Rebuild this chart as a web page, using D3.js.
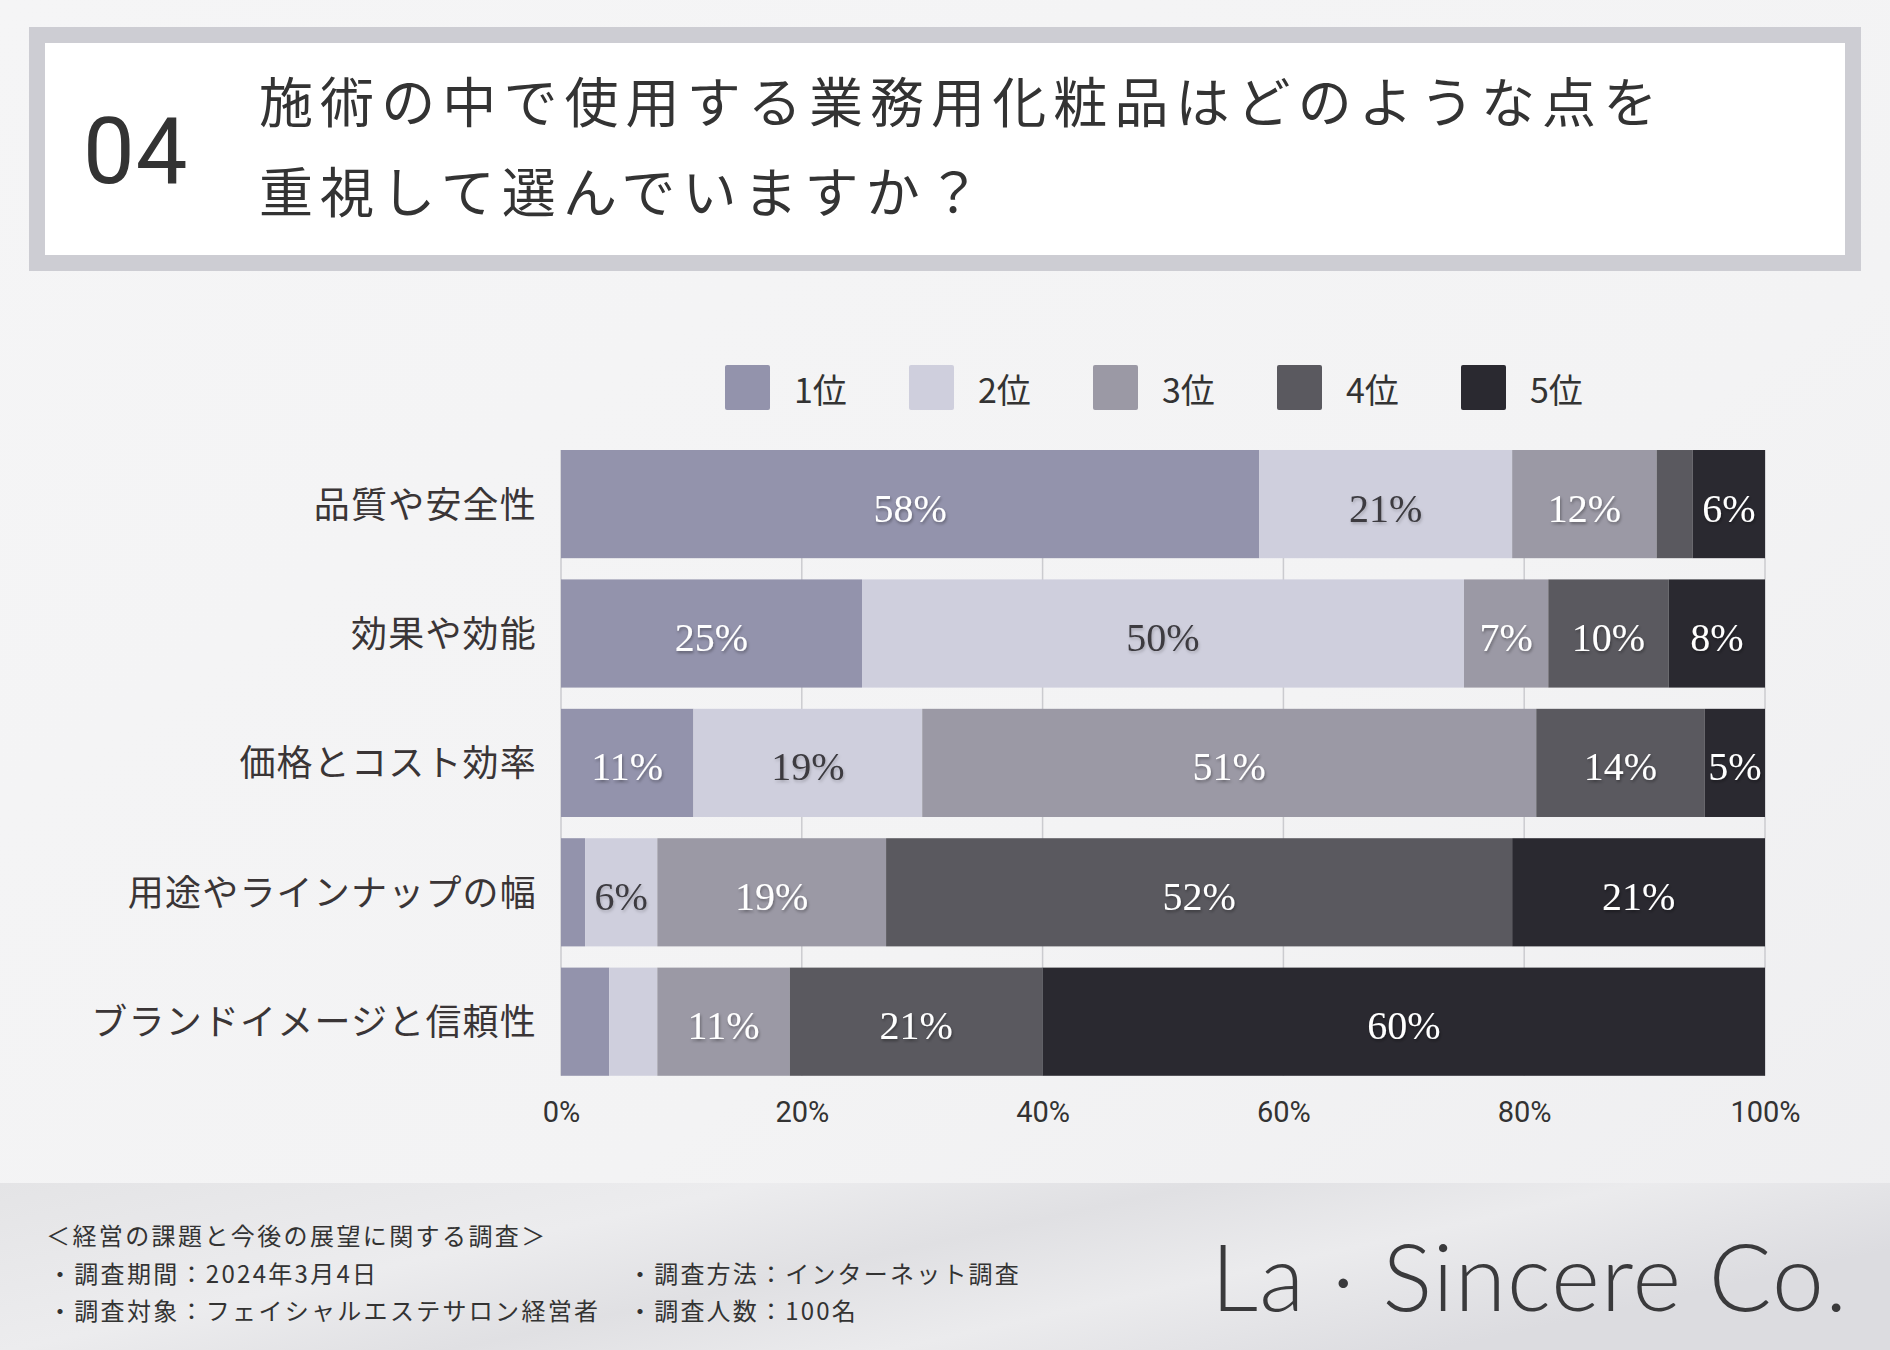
<!DOCTYPE html>
<html><head><meta charset="utf-8">
<script src="https://cdn.jsdelivr.net/npm/d3@7"></script>
<style>
html,body{margin:0;padding:0;background:#f3f3f4;}
svg{display:block;}
</style></head>
<body>
<svg id="chart" width="1890" height="1350"></svg>
<script>
// ---- data ----
const categories = ["品質や安全性","効果や効能","価格とコスト効率","用途やラインナップの幅","ブランドイメージと信頼性"];
const seriesNames = ["1位","2位","3位","4位","5位"];
const rank1 = [58,25,11,2,4];
const rank2 = [21,50,19,6,4];
const rank3 = [12,7,51,19,11];
const rank4 = [3,10,14,52,21];
const rank5 = [6,8,5,21,60];
const xTicks = [0,20,40,60,80,100];
const seriesColors = ["#9393ac","#cfcfdd","#9b99a5","#5a595f","#2a2930"];
const labelColors = ["#ffffff","#3c3b40","#ffffff","#ffffff","#ffffff"];
const titleLines = ["施術の中で使用する業務用化粧品はどのような点を","重視して選んでいますか？"];
const questionNo = "04";
const footerLines = ["＜経営の課題と今後の展望に関する調査＞"];
const footerLeft = ["・調査期間：2024年3月4日","・調査対象：フェイシャルエステサロン経営者"];
const footerRight = ["・調査方法：インターネット調査","・調査人数：100名"];
const brand = "La · Sincere Co.";

const rows = categories.map((c,i)=>({cat:c, "1位":rank1[i], "2位":rank2[i], "3位":rank3[i], "4位":rank4[i], "5位":rank5[i]}));

const svg = d3.select("#chart");
const defs = svg.append("defs");

// background gradients
const bg = defs.append("linearGradient").attr("id","bg").attr("x1",0).attr("y1",0).attr("x2",1).attr("y2",1);
bg.append("stop").attr("offset","0%").attr("stop-color","#f5f5f6");
bg.append("stop").attr("offset","60%").attr("stop-color","#f3f3f4");
bg.append("stop").attr("offset","100%").attr("stop-color","#eeeef0");
const fg = defs.append("linearGradient").attr("id","foot").attr("x1",0).attr("y1",0).attr("x2",1).attr("y2",0.4);
fg.append("stop").attr("offset","0%").attr("stop-color","#e4e4e6");
fg.append("stop").attr("offset","35%").attr("stop-color","#ececee");
fg.append("stop").attr("offset","55%").attr("stop-color","#e0e0e3");
fg.append("stop").attr("offset","75%").attr("stop-color","#ebebed");
fg.append("stop").attr("offset","100%").attr("stop-color","#dcdce0");
const sh = defs.append("filter").attr("id","shadow").attr("x","-20%").attr("y","-20%").attr("width","140%").attr("height","140%");
sh.append("feDropShadow").attr("dx",1).attr("dy",2).attr("stdDeviation",1.5).attr("flood-color","#000").attr("flood-opacity",0.35);
const sh2 = defs.append("filter").attr("id","shadowLight").attr("x","-20%").attr("y","-20%").attr("width","140%").attr("height","140%");
sh2.append("feDropShadow").attr("dx",1).attr("dy",2).attr("stdDeviation",1.5).attr("flood-color","#000").attr("flood-opacity",0.2);

svg.append("rect").attr("width",1890).attr("height",1350).attr("fill","url(#bg)");
svg.append("rect").attr("x",0).attr("y",1183).attr("width",1890).attr("height",167).attr("fill","url(#foot)");

// header box
svg.append("rect").attr("x",29).attr("y",27).attr("width",1832).attr("height",244).attr("fill","#cdcdd3");
svg.append("rect").attr("x",45).attr("y",43).attr("width",1800).attr("height",212).attr("fill","#ffffff");
svg.append("text").attr("x",83).attr("y",183)
  .attr("font-family","Roboto, 'Noto Sans', sans-serif").attr("font-size",92).attr("letter-spacing",1)
  .attr("fill","#333333").text(questionNo);
svg.selectAll("text.title").data(titleLines).join("text").attr("class","title")
  .attr("x",259).attr("y",(d,i)=> i===0 ? 99 : 189)
  .attr("dominant-baseline","central")
  .attr("font-family","'Noto Sans CJK JP', sans-serif").attr("font-size",54).attr("letter-spacing",7.1)
  .attr("fill","#333333").text(d=>d);

// scales
const x = d3.scaleLinear().domain([0,100]).range([561,1765]);
const y = d3.scaleBand().domain(categories).range([439.4,1086.4]).paddingInner(0.164).paddingOuter(0.082);
const color = d3.scaleOrdinal().domain(seriesNames).range(seriesColors);
const lblColor = d3.scaleOrdinal().domain(seriesNames).range(labelColors);
const legendX = d3.scalePoint().domain(seriesNames).range([725,1461]);

// grid lines
const y0 = y(categories[0]), y1 = y(categories[categories.length-1]) + y.bandwidth();
svg.append("g").selectAll("line").data(xTicks).join("line")
  .attr("x1",d=>x(d)).attr("x2",d=>x(d)).attr("y1",y0).attr("y2",y1)
  .attr("stroke","#cbcbcf").attr("stroke-width",1.5);

// stacked bars
const stack = d3.stack().keys(seriesNames)(rows);
const layers = svg.append("g").selectAll("g").data(stack).join("g").attr("fill",d=>color(d.key));
layers.selectAll("rect").data(d=>d).join("rect")
  .attr("x",d=>x(d[0])).attr("width",d=>x(d[1])-x(d[0]))
  .attr("y",d=>y(d.data.cat)).attr("height",y.bandwidth());

// value labels
stack.forEach(layer=>{
  svg.append("g").selectAll("text").data(layer.filter(d=>d[1]-d[0]>=5)).join("text")
    .attr("x",d=>x((d[0]+d[1])/2)).attr("y",d=>y(d.data.cat)+y.bandwidth()/2+4)
    .attr("text-anchor","middle").attr("dominant-baseline","central")
    .attr("font-family","'Liberation Serif', 'DejaVu Serif', serif").attr("font-size",40)
    .attr("fill",lblColor(layer.key))
    .attr("filter", layer.key==="2位" ? "url(#shadowLight)" : "url(#shadow)")
    .text(d=>(d[1]-d[0])+"%");
});

// y axis labels
const yAxis = d3.axisLeft(y).tickSize(0).tickPadding(24);
const yg = svg.append("g").attr("transform",`translate(${x(0)},2)`).call(yAxis);
yg.select(".domain").remove();
yg.selectAll("text").attr("font-family","'Noto Sans CJK JP', sans-serif").attr("font-size",36)
  .attr("fill","#3a3536").attr("letter-spacing",1.2);

// x axis
const xAxis = d3.axisBottom(x).tickValues(xTicks).tickFormat(d=>d+"%").tickSize(0).tickPadding(26);
const xg = svg.append("g").attr("transform",`translate(0,${y1})`).call(xAxis);
xg.select(".domain").remove();
xg.selectAll("text").attr("font-family","Roboto, 'Noto Sans', sans-serif").attr("font-size",29).attr("fill","#333333");

// legend
const legend = svg.append("g").selectAll("g").data(seriesNames).join("g")
  .attr("transform",d=>`translate(${legendX(d)},0)`);
legend.append("rect").attr("x",0).attr("y",365).attr("width",45).attr("height",45).attr("rx",2).attr("fill",d=>color(d));
legend.append("text").attr("x",69).attr("y",388).attr("dominant-baseline","central")
  .attr("font-family","'Noto Sans CJK JP', sans-serif").attr("font-size",34).attr("fill","#333333").text(d=>d);

// footer
const ff = "'Noto Sans CJK JP', sans-serif";
svg.append("text").attr("x",46).attr("y",1234).attr("dominant-baseline","central")
  .attr("font-family",ff).attr("font-size",24).attr("letter-spacing",2.4).attr("fill","#333333").text(footerLines[0]);
svg.selectAll("text.fl").data(footerLeft).join("text").attr("class","fl")
  .attr("x",48).attr("y",(d,i)=>1272+i*37).attr("dominant-baseline","central")
  .attr("font-family",ff).attr("font-size",24).attr("letter-spacing",2.3).attr("fill","#333333").text(d=>d);
svg.selectAll("text.fr").data(footerRight).join("text").attr("class","fr")
  .attr("x",628).attr("y",(d,i)=>1272+i*37).attr("dominant-baseline","central")
  .attr("font-family",ff).attr("font-size",24).attr("letter-spacing",2.2).attr("fill","#333333").text(d=>d);

// brand
svg.append("text").attr("x",1211).attr("y",1311)
  .attr("font-family","Lato, 'Open Sans', sans-serif").attr("font-weight",300).attr("font-size",93)
  .attr("fill","#3a3a3c").attr("textLength",636).attr("lengthAdjust","spacing").text(brand);
</script>
</body></html>
